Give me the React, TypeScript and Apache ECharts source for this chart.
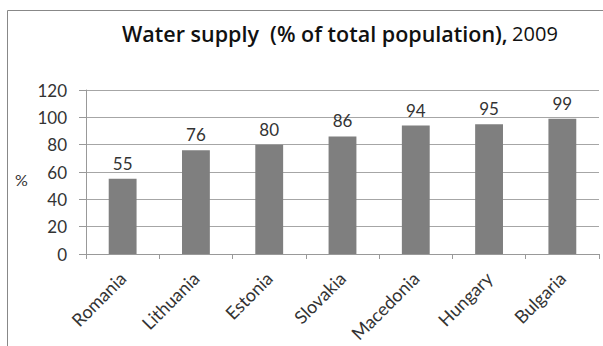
import React, { useEffect, useRef } from "react";
import * as echarts from "echarts";

const countries = ["Romania", "Lithuania", "Estonia", "Slovakia", "Macedonia", "Hungary", "Bulgaria"];
const supplyPct = [55, 76, 80, 86, 94, 95, 99];
const yTicks = [0, 20, 40, 60, 80, 100, 120];

const FONT = "Lato, 'Open Sans', sans-serif";
const TITLE_FONT = "'Open Sans', Lato, sans-serif";
const TEXT = "#333333";

export default function App() {
  const ref = useRef<HTMLDivElement>(null);

  useEffect(() => {
    document.body.style.margin = "0";
    const chart = echarts.init(ref.current!, undefined, { renderer: "svg" });
    chart.setOption({
      animation: false,
      backgroundColor: "#ffffff",
      textStyle: { fontFamily: FONT },
      title: {
        text: "{b|Water supply  (% of total population),} {r|2009}",
        left: 117,
        top: 17,
        textStyle: {
          rich: {
            b: { fontFamily: TITLE_FONT, fontSize: 21.5, fontWeight: 600, color: "#111" },
            r: { fontFamily: TITLE_FONT, fontSize: 20, fontWeight: "normal", color: "#111" },
          },
        },
      },
      graphic: [
        {
          type: "rect",
          shape: { x: 7.5, y: 10.5, width: 640, height: 400 },
          style: { fill: "none", stroke: "#888888", lineWidth: 1 },
          silent: true,
        },
        {
          type: "text",
          left: 15,
          top: 171,
          style: { text: "%", fontFamily: FONT, fontSize: 16, fill: TEXT },
        },
      ],
      grid: {
        left: 86,
        right: 4,
        top: 90,
        bottom: 92,
        containLabel: false,
        outerBoundsMode: "none",
      },
      xAxis: {
        type: "category",
        data: countries,
        axisLine: { lineStyle: { color: "#999999" } },
        axisTick: { show: true, length: 5, lineStyle: { color: "#999999" } },
        axisLabel: { rotate: 45, fontSize: 18, color: TEXT, fontFamily: FONT, margin: 21 },
      },
      yAxis: {
        type: "value",
        min: yTicks[0],
        max: yTicks[yTicks.length - 1],
        interval: 20,
        axisLine: { show: true, lineStyle: { color: "#999999" } },
        axisTick: { show: true, length: 7, lineStyle: { color: "#999999" } },
        splitLine: { lineStyle: { color: "#a6a6a6" } },
        axisLabel: { fontSize: 17, color: TEXT, fontFamily: FONT, margin: 19 },
      },
      series: [
        {
          type: "bar",
          data: supplyPct,
          barWidth: "38%",
          itemStyle: { color: "#7f7f7f" },
          label: {
            show: true,
            position: "top",
            distance: 7,
            fontSize: 17,
            color: TEXT,
            fontFamily: FONT,
          },
        },
      ],
    });
    return () => chart.dispose();
  }, []);

  return <div ref={ref} style={{ width: 603, height: 346 }} />;
}
